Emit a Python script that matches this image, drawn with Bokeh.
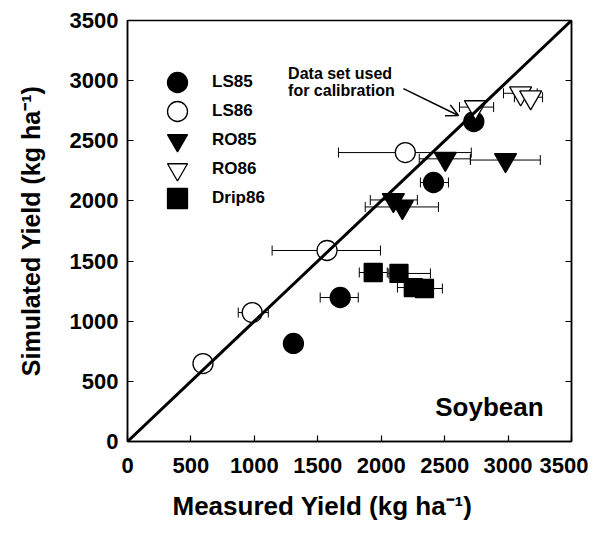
import math
from bokeh.plotting import figure
from bokeh.models import (ColumnDataSource, Whisker, TeeHead, Legend, LegendItem, LinearAxis,
                          Range1d, Label, Arrow, OpenHead, Title, FixedTicker, Slope)
from bokeh.embed import file_html
from bokeh.resources import INLINE

NaN = float("nan")

# ---- data (kg/ha) ----
ls85_x = [1308, 1677, 2412, 2730]
ls85_y = [815, 1197, 2153, 2660]
ls85_lo = [NaN, 1519, 2309, NaN]
ls85_hi = [NaN, 1819, 2530, NaN]

ls86_x = [595, 983, 1573, 2190]
ls86_y = [648, 1072, 1588, 2402]
ls86_lo = [NaN, 873, 1140, 1663]
ls86_hi = [NaN, 1110, 1994, 2710]

ro85_x = [2096, 2167, 2505, 2980]
ro85_y = [2008, 1950, 2350, 2340]
ro85_lo = [1914, 1874, 2300, 2703]
ro85_hi = [2285, 2451, 2703, 3254]

ro86_x = [2743, 3099, 3178]
ro86_y = [2780, 2895, 2862]
ro86_lo = [2617, 2964, 3050]
ro86_hi = [2886, 3230, 3272]

drip86_x = [1937, 2140, 2253, 2341]
drip86_y = [1405, 1397, 1280, 1272]
drip86_lo = [1827, 2060, 2128, 2250]
drip86_hi = [2048, 2388, 2380, 2482]

tick_values = [0, 500, 1000, 1500, 2000, 2500, 3000, 3500]

FONT = "Liberation Sans"

p = figure(width=588, height=535, x_range=Range1d(0, 3500), y_range=Range1d(0, 3500),
           output_backend="svg", toolbar_location=None,
           min_border_left=127, min_border_right=17, min_border_top=20, min_border_bottom=94)
p.grid.visible = False
p.outline_line_color = "black"
p.outline_line_width = 1.5

for ax in (p.xaxis[0], p.yaxis[0]):
    ax.ticker = FixedTicker(ticks=tick_values)
    ax.major_tick_in = 6
    ax.major_tick_out = 0
    ax.minor_tick_line_color = None
    ax.major_tick_line_width = 1.2
    ax.axis_line_width = 1.5
    ax.major_label_text_font = FONT
    ax.major_label_text_font_style = "bold"
    ax.major_label_text_font_size = "22px"
    ax.major_label_text_color = "black"

p.xaxis.major_label_standoff = 16
p.yaxis.major_label_standoff = 9
p.yaxis.axis_label = "Simulated Yield (kg ha\u207b\u00b9)"
p.yaxis.axis_label_text_font = FONT
p.yaxis.axis_label_text_font_style = "bold"
p.yaxis.axis_label_text_font_size = "25px"
p.yaxis.axis_label_text_color = "black"
p.yaxis.axis_label_standoff = 22

right_ax = LinearAxis(ticker=FixedTicker(ticks=tick_values), major_tick_in=6, major_tick_out=0,
                      minor_tick_line_color=None,
                      major_label_overrides={v: "" for v in tick_values},
                      axis_line_width=1.5, major_tick_line_width=1.2)
p.add_layout(right_ax, "right")

xt = Title(text="Measured Yield (kg ha\u207b\u00b9)", align="left", offset=45,
           text_font=FONT, text_font_style="bold", text_font_size="26px",
           text_color="black", standoff=26)
p.add_layout(xt, "below")

series = [
    ("LS85", ls85_x, ls85_y, ls85_lo, ls85_hi, "circle", "black", 20),
    ("LS86", ls86_x, ls86_y, ls86_lo, ls86_hi, "circle", "white", 20),
    ("RO85", ro85_x, ro85_y, ro85_lo, ro85_hi, "inverted_triangle", "black", 22),
    ("RO86", ro86_x, ro86_y, ro86_lo, ro86_hi, "inverted_triangle", "white", 22),
    ("Drip86", drip86_x, drip86_y, drip86_lo, drip86_hi, "square", "black", 18),
]

# legend rows: offset (px from frame bottom) of each one-item legend box
legend_rows = [334, 305, 276, 247, 218]

for (name, xs, ys, lo, hi, marker, fill, size), ly in zip(series, legend_rows):
    wx = [(y, a, b) for y, a, b in zip(ys, lo, hi) if not math.isnan(a)]
    if wx:
        wsrc = ColumnDataSource(dict(y=[w[0] for w in wx], lo=[w[1] for w in wx], hi=[w[2] for w in wx]))
        wh = Whisker(source=wsrc, base="y", lower="lo", upper="hi", dimension="width",
                     line_width=1, line_color="black", level="underlay",
                     upper_head=TeeHead(size=10, line_width=1, line_color="black"),
                     lower_head=TeeHead(size=10, line_width=1, line_color="black"))
        p.add_layout(wh)
    src = ColumnDataSource(dict(x=xs, y=ys))
    r = p.scatter("x", "y", source=src, marker=marker, size=size, fill_color=fill,
                  line_color="black", line_width=1.3)
    lg = Legend(items=[LegendItem(label=name, renderers=[r])], location=(25, ly),
                glyph_width=50, glyph_height=50, label_height=50, label_standoff=10,
                padding=0, margin=0, border_line_alpha=0, background_fill_alpha=0,
                label_text_font=FONT, label_text_font_style="bold",
                label_text_font_size="17px", label_text_color="black")
    p.add_layout(lg)

p.add_layout(Slope(gradient=1, y_intercept=0, line_color="black", line_width=3))

for txt, yy in (("Data set used", 3059), ("for calibration", 2918)):
    p.add_layout(Label(x=1266, y=yy, text=txt, text_align="left", text_baseline="middle",
                       text_font=FONT, text_font_style="bold", text_font_size="16px",
                       text_color="black"))

p.add_layout(Arrow(x_start=2175, y_start=2934, x_end=2609, y_end=2710, line_width=1.5,
                   end=OpenHead(size=12, line_width=1.5)))

p.add_layout(Label(x=3280, y=290, text="Soybean", text_align="right", text_baseline="middle",
                   text_font=FONT, text_font_style="bold", text_font_size="26px",
                   text_color="black"))

open("out.html", "w").write(file_html(p, INLINE))
